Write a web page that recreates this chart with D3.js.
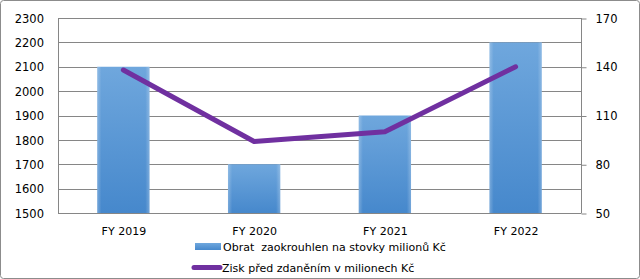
<!DOCTYPE html>
<html><head><meta charset="utf-8">
<script src="https://cdn.jsdelivr.net/npm/d3@7"></script>
<style>
html,body{margin:0;padding:0;background:#fff;}
svg{display:block;font-family:"DejaVu Sans",Verdana,sans-serif;}
text{white-space:pre;}
</style></head>
<body>
<svg id="c" width="640" height="279"></svg>
<script>
const categories = ["FY 2019","FY 2020","FY 2021","FY 2022"];
const obrat = [2100, 1700, 1900, 2200];
const zisk = [138, 94, 100, 140];
const leftTicks = [1500,1600,1700,1800,1900,2000,2100,2200,2300];
const rightTicks = [50,80,110,140,170];
const seriesNames = ["Obrat  zaokrouhlen na stovky milionů Kč","Zisk před zdaněním v milionech Kč"];

const svg = d3.select("#c");
const L = 58, R = 581, T = 18, B = 213;
const gridColor = "#868686";

svg.append("rect").attr("x",0.5).attr("y",0.5).attr("width",639).attr("height",278)
  .attr("rx",3).attr("fill","#fff").attr("stroke","#8c8c8c");

const defs = svg.append("defs");
const grad = defs.append("linearGradient").attr("id","bg").attr("x1",0).attr("y1",0).attr("x2",0).attr("y2",1);
grad.append("stop").attr("offset","0%").attr("stop-color","#6fa7dd");
grad.append("stop").attr("offset","100%").attr("stop-color","#4688cc");
const hgrad = defs.append("linearGradient").attr("id","hg").attr("x1",0).attr("y1",0).attr("x2",1).attr("y2",0);
hgrad.append("stop").attr("offset","0%").attr("stop-color","#fff").attr("stop-opacity",0.25);
hgrad.append("stop").attr("offset","8%").attr("stop-color","#fff").attr("stop-opacity",0);
hgrad.append("stop").attr("offset","92%").attr("stop-color","#fff").attr("stop-opacity",0);
hgrad.append("stop").attr("offset","100%").attr("stop-color","#fff").attr("stop-opacity",0.25);

const x = d3.scaleBand().domain(categories).range([L,R]).paddingInner(0.6).paddingOuter(0.3);
const xc = d3.scalePoint().domain(categories).range([L,R]).padding(0.5);
const yL = d3.scaleLinear().domain([1500,2300]).range([B,T]);
const yR = d3.scaleLinear().domain([50,170]).range([B,T]);

// gridlines
svg.append("g").selectAll("line").data(leftTicks).join("line")
  .attr("x1",L).attr("x2",R)
  .attr("y1",d=>Math.round(yL(d))+0.5).attr("y2",d=>Math.round(yL(d))+0.5)
  .attr("stroke",gridColor).attr("stroke-width",1);

// left axis line
svg.append("line").attr("x1",L+0.5).attr("x2",L+0.5).attr("y1",T).attr("y2",B+0.5).attr("stroke",gridColor);

// left labels
const axL = d3.axisLeft(yL).tickValues(leftTicks).tickFormat(d3.format("d")).tickSize(0).tickPadding(14);
const gL = svg.append("g").attr("transform",`translate(${L},0.5)`).call(axL);
gL.select(".domain").remove();
gL.selectAll("text").attr("font-size","11.5px").attr("fill","#000").attr("font-family","DejaVu Sans, Verdana, sans-serif");

// right axis
const axR = d3.axisRight(yR).tickValues(rightTicks).tickFormat(d3.format("d")).tickSize(5).tickPadding(9);
const gR = svg.append("g").attr("transform",`translate(${R+0.5},0.5)`).call(axR);
gR.select(".domain").attr("stroke",gridColor).attr("d",`M0,${T-0.5}V${B}`);
gR.selectAll("line").attr("stroke",gridColor);
gR.selectAll("text").attr("font-size","11.5px").attr("fill","#000").attr("font-family","DejaVu Sans, Verdana, sans-serif");

// bars
const bars = svg.append("g");
bars.selectAll("rect.b").data(categories).join("rect").attr("class","b")
  .attr("x",(d)=>x(d)).attr("width",x.bandwidth())
  .attr("y",(d,i)=>yL(obrat[i])).attr("height",(d,i)=>B-yL(obrat[i]))
  .attr("fill","url(#bg)");
bars.selectAll("rect.h").data(categories).join("rect").attr("class","h")
  .attr("x",(d)=>x(d)).attr("width",x.bandwidth())
  .attr("y",(d,i)=>yL(obrat[i])).attr("height",(d,i)=>B-yL(obrat[i]))
  .attr("fill","url(#hg)");

// x labels
const axX = d3.axisBottom(xc).tickSize(0).tickPadding(14);
const gX = svg.append("g").attr("transform",`translate(0,${B})`).call(axX);
gX.select(".domain").remove();
gX.selectAll("text").attr("font-size","11px").attr("fill","#000").attr("font-family","DejaVu Sans, Verdana, sans-serif");

// line
const line = d3.line().x((d,i)=>xc(categories[i])).y(d=>yR(d)).curve(d3.curveLinear);
svg.append("path").datum(zisk).attr("d",line).attr("fill","none")
  .attr("stroke","#7030a0").attr("stroke-width",5).attr("stroke-linecap","round").attr("stroke-linejoin","round");

// legend
const lg = svg.append("g");
lg.append("rect").attr("x",195).attr("y",243).attr("width",26).attr("height",7).attr("fill","url(#bg)");
lg.append("text").attr("x",223).attr("y",250.5).attr("xml:space","preserve").text(seriesNames[0])
  .attr("font-size","11px").attr("fill","#000");
lg.append("line").attr("x1",194).attr("x2",220).attr("y1",267.5).attr("y2",267.5)
  .attr("stroke","#7030a0").attr("stroke-width",5).attr("stroke-linecap","round");
lg.append("text").attr("x",222).attr("y",272).text(seriesNames[1])
  .attr("font-size","11px").attr("fill","#000");
</script>
</body></html>
